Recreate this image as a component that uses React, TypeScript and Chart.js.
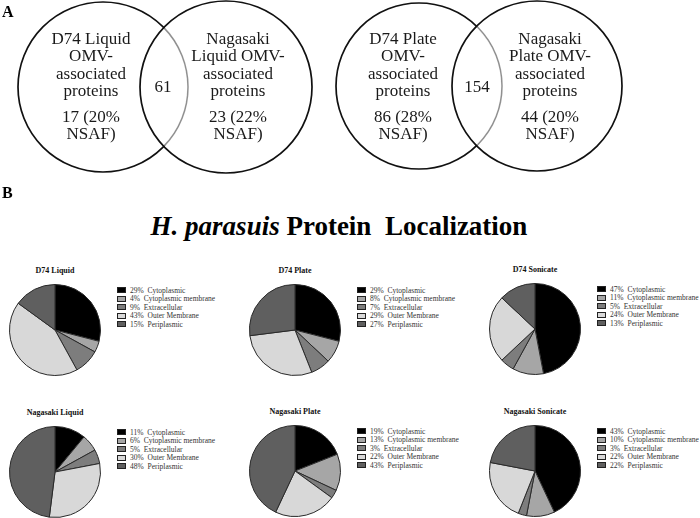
import React, { useEffect, useRef } from "react";
import { Chart, registerables } from "chart.js";

Chart.register(...registerables);

// ---------------- DATA ----------------
const localizationLabels = [
  "Cytoplasmic",
  "Cytoplasmic membrane",
  "Extracellular",
  "Outer Membrane",
  "Periplasmic",
];

const pieTitles = [
  "D74 Liquid",
  "D74 Plate",
  "D74 Sonicate",
  "Nagasaki Liquid",
  "Nagasaki Plate",
  "Nagasaki Sonicate",
];

const d74Liquid = [29, 4, 9, 43, 15];
const d74Plate = [29, 8, 7, 29, 27];
const d74Sonicate = [47, 11, 5, 24, 13];
const nagasakiLiquid = [11, 6, 5, 30, 48];
const nagasakiPlate = [19, 13, 3, 22, 43];
const nagasakiSonicate = [43, 10, 3, 22, 22];

const pieValues = [d74Liquid, d74Plate, d74Sonicate, nagasakiLiquid, nagasakiPlate, nagasakiSonicate];

const vennSetLabels = [
  ["D74 Liquid", "OMV-", "associated", "proteins"],
  ["Nagasaki", "Liquid OMV-", "associated", "proteins"],
  ["D74 Plate", "OMV-", "associated", "proteins"],
  ["Nagasaki", "Plate OMV-", "associated", "proteins"],
];
const vennUniqueCounts = [17, 23, 86, 44];
const vennUniqueNsaf = [20, 22, 28, 20];
const vennSharedCounts = [61, 154];

const chartTitleItalic = "H. parasuis";
const chartTitleRest = " Protein\u00a0\u00a0Localization";

// ---------------- LAYOUT / STYLE ----------------
const SERIF = '"Liberation Serif", "Times New Roman", Times, serif';
const sliceColors = ["#000000", "#a6a6a6", "#7d7d7d", "#d8d8d8", "#5f5f5f"];

const vennCircles = [
  { x: 103, y: 87, r: 85 },
  { x: 226, y: 87, r: 86 },
  { x: 419, y: 86, r: 83 },
  { x: 537, y: 86, r: 85 },
];
const vennLabelCenters = [91, 238, 403, 550];
const vennSharedCenters = [163, 477];

const PIE_R = 45;
const pieCenters = [
  [55, 330],
  [295, 330],
  [535, 329],
  [55, 472],
  [295, 471],
  [535, 471],
];
const legendX = [117, 357, 597];

// ---------------- CHARTS ----------------
const vennArcPlugin = {
  id: "vennInnerArc",
  afterDatasetsDraw(chart: any) {
    const meta = chart.getDatasetMeta(0);
    const ctx = chart.ctx;
    for (let i = 0; i + 1 < meta.data.length; i += 2) {
      const a = meta.data[i];
      const b = meta.data[i + 1];
      const ra = a.options.radius;
      const rb = b.options.radius;
      ctx.save();
      ctx.beginPath();
      ctx.arc(b.x, b.y, rb - 1.2, 0, Math.PI * 2);
      ctx.clip();
      ctx.beginPath();
      ctx.arc(a.x, a.y, ra, 0, Math.PI * 2);
      ctx.strokeStyle = "#ffffff";
      ctx.lineWidth = 3;
      ctx.stroke();
      ctx.strokeStyle = "#909090";
      ctx.lineWidth = 1.5;
      ctx.stroke();
      ctx.restore();
    }
  },
};

function VennChart() {
  const ref = useRef<HTMLCanvasElement>(null);
  useEffect(() => {
    if (!ref.current) return;
    const chart = new Chart(ref.current, {
      type: "scatter",
      data: {
        datasets: [
          {
            data: vennCircles.map((c) => ({ x: c.x, y: c.y })),
            pointRadius: vennCircles.map((c) => c.r),
            pointHoverRadius: vennCircles.map((c) => c.r),
            pointBackgroundColor: "rgba(0,0,0,0)",
            pointBorderColor: "#111111",
            pointBorderWidth: 1.7,
            showLine: false,
            clip: false,
          } as any,
        ],
      },
      options: {
        responsive: false,
        animation: false,
        events: [],
        layout: { padding: 0, autoPadding: false } as any,
        scales: {
          x: { type: "linear", min: 0, max: 700, display: false },
          y: { type: "linear", min: 0, max: 200, reverse: true, display: false },
        },
        plugins: { legend: { display: false }, tooltip: { enabled: false } },
      },
      plugins: [vennArcPlugin],
    });
    return () => chart.destroy();
  }, []);
  return (
    <canvas
      ref={ref}
      width={700}
      height={200}
      style={{ position: "absolute", left: 0, top: 0, width: 700, height: 200 }}
    />
  );
}

function PieChart({ values, cx, cy }: { values: number[]; cx: number; cy: number }) {
  const ref = useRef<HTMLCanvasElement>(null);
  const size = PIE_R * 2 + 2;
  useEffect(() => {
    if (!ref.current) return;
    const chart = new Chart(ref.current, {
      type: "pie",
      data: {
        labels: localizationLabels,
        datasets: [
          {
            data: values,
            backgroundColor: sliceColors,
            borderColor: "#2a2a2a",
            borderWidth: 1,
          },
        ],
      },
      options: {
        responsive: false,
        animation: false,
        events: [],
        layout: { padding: 0 },
        plugins: { legend: { display: false }, tooltip: { enabled: false } },
      },
    });
    return () => chart.destroy();
  }, [values]);
  return (
    <canvas
      ref={ref}
      width={size}
      height={size}
      style={{ position: "absolute", left: cx - size / 2, top: cy - size / 2, width: size, height: size }}
    />
  );
}

function PiePanel({ index }: { index: number }) {
  const [cx, cy] = pieCenters[index];
  const values = pieValues[index];
  const lx = legendX[index % 3];
  return (
    <>
      <div
        style={{
          position: "absolute",
          left: cx - 60,
          width: 120,
          top: cy - 64,
          textAlign: "center",
          fontFamily: SERIF,
          fontWeight: "bold",
          fontSize: 8,
          lineHeight: "10px",
          color: "#111",
        }}
      >
        {pieTitles[index]}
      </div>
      <PieChart values={values} cx={cx} cy={cy} />
      {localizationLabels.map((lab, i) => (
        <div
          key={lab}
          style={{
            position: "absolute",
            left: lx,
            top: cy - 44.5 + i * 8.5,
            height: 9,
            display: "flex",
            alignItems: "center",
            whiteSpace: "pre",
            fontFamily: SERIF,
            fontSize: 7.5,
            color: "#333",
          }}
        >
          <span
            style={{
              display: "inline-block",
              width: 7,
              height: 4,
              background: sliceColors[i],
              border: "1px solid #222",
              marginRight: 4,
            }}
          />
          <span>{`${values[i]}%\u00a0\u00a0${lab}`}</span>
        </div>
      ))}
    </>
  );
}

function VennLabels() {
  const common: React.CSSProperties = {
    position: "absolute",
    width: 140,
    textAlign: "center",
    fontFamily: SERIF,
    fontSize: 17,
    lineHeight: "17.3px",
    color: "#1a1a1a",
    whiteSpace: "nowrap",
  };
  return (
    <>
      {vennSetLabels.map((lines, i) => (
        <React.Fragment key={i}>
          <div style={{ ...common, left: vennLabelCenters[i] - 70, top: 30 }}>
            {lines.map((l) => (
              <div key={l}>{l}</div>
            ))}
          </div>
          <div style={{ ...common, left: vennLabelCenters[i] - 70, top: 108 }}>
            <div>{`${vennUniqueCounts[i]} (${vennUniqueNsaf[i]}%`}</div>
            <div>NSAF)</div>
          </div>
        </React.Fragment>
      ))}
      {vennSharedCounts.map((v, i) => (
        <div key={v} style={{ ...common, left: vennSharedCenters[i] - 70, top: 78 }}>
          {v}
        </div>
      ))}
    </>
  );
}

export default function App() {
  return (
    <div
      style={{
        position: "absolute",
        left: 0,
        top: 0,
        width: 700,
        height: 518,
        background: "#ffffff",
        overflow: "hidden",
      }}
    >
      <VennChart />
      <VennLabels />
      <div
        style={{ position: "absolute", left: 2, top: 3, fontFamily: SERIF, fontWeight: "bold", fontSize: 16, lineHeight: "18px" }}
      >
        A
      </div>
      <div
        style={{ position: "absolute", left: 2, top: 184, fontFamily: SERIF, fontWeight: "bold", fontSize: 16, lineHeight: "18px" }}
      >
        B
      </div>
      <div
        style={{
          position: "absolute",
          left: 0,
          width: 678,
          top: 211,
          textAlign: "center",
          fontFamily: SERIF,
          fontWeight: "bold",
          fontSize: 27,
          lineHeight: "30px",
          color: "#000",
          whiteSpace: "pre",
        }}
      >
        <i>{chartTitleItalic}</i>
        {chartTitleRest}
      </div>
      {pieTitles.map((_, i) => (
        <PiePanel key={i} index={i} />
      ))}
    </div>
  );
}
